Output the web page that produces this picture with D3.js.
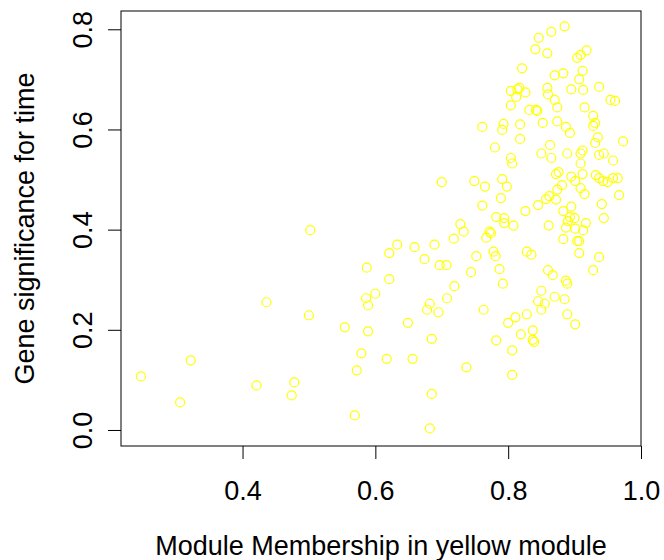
<!DOCTYPE html>
<html>
<head>
<meta charset="utf-8">
<script src="https://cdn.jsdelivr.net/npm/d3@7"></script>
<style>
    body { margin: 0; background: #fff; }
    svg { display: block; font-family: "Liberation Sans", Arial, sans-serif; }
</style>
</head>
<body>
<div id="chart"></div>
<script>
// Module membership (x) and gene significance (y) per gene
const moduleMembership = [
    0.247, 0.322, 0.306, 0.436, 0.421, 0.478, 0.474, 0.502, 0.500, 0.554,
    0.587, 0.586, 0.589, 0.600, 0.589, 0.579, 0.572, 0.569, 0.621, 0.633,
    0.621, 0.659, 0.674, 0.689, 0.697, 0.707, 0.682, 0.678, 0.695, 0.708,
    0.649, 0.685, 0.617, 0.656, 0.685, 0.682, 0.700, 0.718, 0.728, 0.733,
    0.719, 0.744, 0.737, 0.749, 0.765, 0.761, 0.761, 0.752, 0.767, 0.772,
    0.774, 0.778, 0.781, 0.787, 0.792, 0.763, 0.782, 0.780, 0.791, 0.793,
    0.791, 0.798, 0.789, 0.782, 0.794, 0.794, 0.808, 0.804, 0.806, 0.804,
    0.804, 0.812, 0.814, 0.817, 0.826, 0.821, 0.818, 0.818, 0.826, 0.828,
    0.835, 0.800, 0.811, 0.828, 0.819, 0.837, 0.837, 0.839, 0.806, 0.806,
    0.841, 0.846, 0.859, 0.865, 0.885, 0.832, 0.842, 0.844, 0.852, 0.859,
    0.860, 0.870, 0.883, 0.870, 0.874, 0.874, 0.887, 0.893, 0.895, 0.850,
    0.863, 0.865, 0.889, 0.845, 0.857, 0.862, 0.872, 0.872, 0.876, 0.874,
    0.881, 0.895, 0.861, 0.883, 0.895, 0.893, 0.900, 0.890, 0.887, 0.883,
    0.860, 0.867, 0.887, 0.889, 0.850, 0.845, 0.855, 0.850, 0.870, 0.885,
    0.889, 0.901, 0.904, 0.909, 0.918, 0.912, 0.907, 0.913, 0.915, 0.937,
    0.954, 0.961, 0.928, 0.931, 0.928, 0.935, 0.931, 0.912, 0.909, 0.937,
    0.944, 0.909, 0.912, 0.958, 0.973, 0.901, 0.909, 0.915, 0.932, 0.937,
    0.943, 0.950, 0.958, 0.965, 0.967, 0.941, 0.944, 0.917, 0.901, 0.913,
    0.904, 0.907, 0.907, 0.937, 0.928
];
const geneSignificance = [
    0.107, 0.139, 0.055, 0.255, 0.089, 0.095, 0.069, 0.399, 0.229, 0.205,
    0.324, 0.263, 0.249, 0.272, 0.197, 0.153, 0.119, 0.029, 0.353, 0.370,
    0.301, 0.365, 0.341, 0.370, 0.329, 0.329, 0.252, 0.240, 0.235, 0.263,
    0.214, 0.182, 0.142, 0.142, 0.072, 0.003, 0.495, 0.382, 0.411, 0.396,
    0.287, 0.315, 0.125, 0.497, 0.486, 0.605, 0.448, 0.347, 0.384, 0.396,
    0.393, 0.356, 0.347, 0.321, 0.292, 0.240, 0.179, 0.564, 0.599, 0.611,
    0.501, 0.486, 0.463, 0.425, 0.423, 0.413, 0.408, 0.543, 0.532, 0.677,
    0.648, 0.665, 0.680, 0.683, 0.674, 0.722, 0.610, 0.581, 0.437, 0.356,
    0.350, 0.214, 0.225, 0.231, 0.191, 0.199, 0.180, 0.176, 0.159, 0.110,
    0.760, 0.783, 0.752, 0.795, 0.806, 0.639, 0.639, 0.637, 0.613, 0.683,
    0.670, 0.708, 0.712, 0.659, 0.644, 0.616, 0.605, 0.593, 0.680, 0.552,
    0.569, 0.543, 0.552, 0.449, 0.461, 0.467, 0.460, 0.511, 0.515, 0.480,
    0.489, 0.506, 0.408, 0.437, 0.446, 0.425, 0.423, 0.417, 0.404, 0.381,
    0.319, 0.309, 0.298, 0.292, 0.278, 0.257, 0.252, 0.240, 0.266, 0.261,
    0.231, 0.211, 0.743, 0.749, 0.758, 0.717, 0.700, 0.679, 0.644, 0.685,
    0.659, 0.657, 0.627, 0.613, 0.607, 0.584, 0.573, 0.558, 0.552, 0.549,
    0.552, 0.532, 0.511, 0.538, 0.576, 0.497, 0.483, 0.471, 0.509, 0.503,
    0.497, 0.495, 0.503, 0.503, 0.469, 0.451, 0.423, 0.413, 0.402, 0.399,
    0.377, 0.377, 0.353, 0.345, 0.319
];
const xTicks = [0.4, 0.6, 0.8, 1.0];
const yTicks = [0.0, 0.2, 0.4, 0.6, 0.8];
const xLabel = 'Module Membership in yellow module';
const yLabel = 'Gene significance for time';

const points = moduleMembership.map((x, i) => ({ x, y: geneSignificance[i] }));

const W = 664, H = 560;
const margin = { top: 11, right: 23, bottom: 114, left: 121 };
const width = W - margin.left - margin.right;
const height = H - margin.top - margin.bottom;
const fontSize = '27px';

const svg = d3.select('#chart').append('svg')
    .attr('width', W)
    .attr('height', H);

const g = svg.append('g')
    .attr('transform', `translate(${margin.left},${margin.top})`);

// R-style limits: data range padded by 4%
const xScale = d3.scaleLinear().domain([0.217, 1.0]).range([0, width]);
const yScale = d3.scaleLinear().domain([-0.032, 0.8365]).range([height, 0]);

// Points
g.selectAll('.pt')
    .data(points)
    .enter().append('circle')
    .attr('class', 'pt')
    .attr('cx', d => xScale(d.x))
    .attr('cy', d => yScale(d.y))
    .attr('r', 4.5)
    .attr('fill', 'none')
    .attr('stroke', '#ffff00')
    .attr('stroke-width', 1.2);

// Axes
const gx = g.append('g')
    .attr('transform', `translate(0,${height})`)
    .call(d3.axisBottom(xScale).tickValues(xTicks).tickFormat(d3.format('.1f')).tickSize(13));

const gy = g.append('g')
    .call(d3.axisLeft(yScale).tickValues(yTicks).tickFormat(d3.format('.1f')).tickSize(13));

g.selectAll('.domain').remove();
g.selectAll('.tick line').attr('stroke', '#000').attr('stroke-width', 1);
g.selectAll('.tick text')
    .attr('fill', '#000')
    .style('font-family', '"Liberation Sans", Arial, sans-serif')
    .style('font-size', fontSize);

gx.selectAll('.tick text')
    .attr('y', 54)
    .attr('dy', null);

// y tick labels run parallel to the axis
gy.selectAll('.tick text')
    .attr('x', null)
    .attr('dy', null)
    .attr('text-anchor', 'middle')
    .attr('transform', 'translate(-29,0) rotate(-90)');

// Box
g.append('rect')
    .attr('x', 0)
    .attr('y', 0)
    .attr('width', width)
    .attr('height', height)
    .attr('fill', 'none')
    .attr('stroke', '#000')
    .attr('stroke-width', 1);

// Titles
svg.append('text')
    .attr('x', margin.left + width / 2)
    .attr('y', 555)
    .attr('text-anchor', 'middle')
    .style('font-size', fontSize)
    .text(xLabel);

svg.append('text')
    .attr('transform', `translate(34,${margin.top + height / 2}) rotate(-90)`)
    .attr('text-anchor', 'middle')
    .style('font-size', fontSize)
    .text(yLabel);
</script>
</body>
</html>
